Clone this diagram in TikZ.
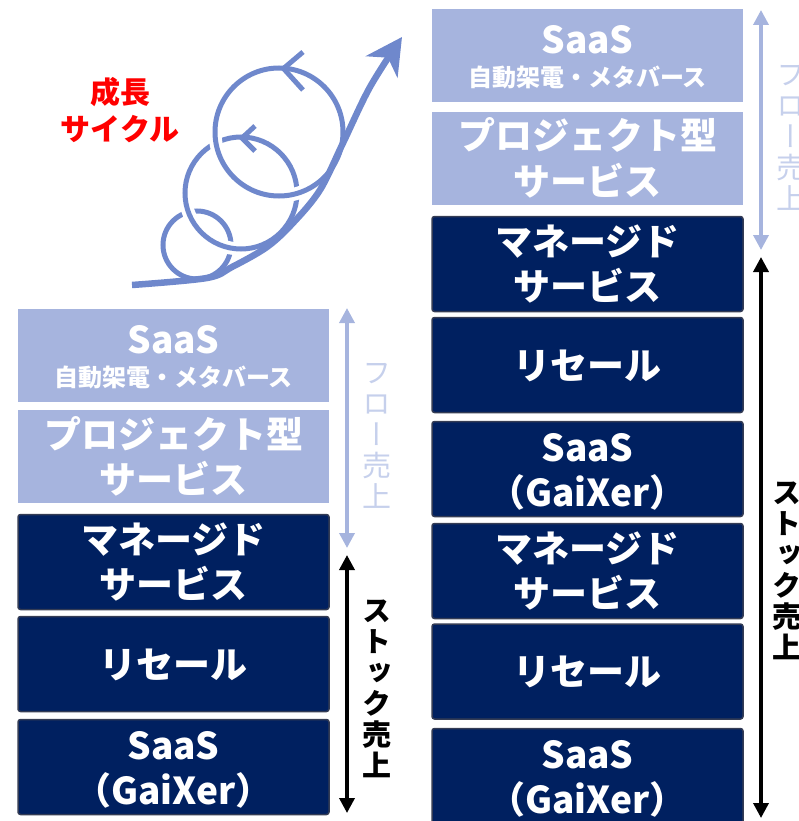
\documentclass[tikz,border=0pt]{standalone}
\usepackage{fontspec}
\usepackage{graphicx}
\setmainfont{Noto Sans CJK JP}
\newfontfamily\jpvert{Noto Sans CJK JP}[RawFeature=+vert]
\usetikzlibrary{arrows.meta}

\definecolor{navy}{RGB}{0,32,96}
\definecolor{navyedge}{RGB}{52,60,84}
\definecolor{lav}{RGB}{166,180,222}
\definecolor{lavtext}{RGB}{198,208,236}
\definecolor{swirl}{RGB}{111,136,204}

\tikzset{
  sidetip/.tip={Triangle[length=15pt, width=15pt]},
  tile/.style={minimum width=311pt, inner sep=0pt, outer sep=0pt},
  darktile/.style={tile, draw=navyedge, line width=1.5pt, fill=navy,
    rounded corners=2.5pt, minimum height=95pt},
  lighttile/.style={tile, fill=lav, minimum height=93pt},
  bigtxt/.style={anchor=base, text=white, inner sep=0pt,
    font=\bfseries\fontsize{37}{44}\selectfont},
  subtxt/.style={anchor=base, text=white, inner sep=0pt,
    font=\bfseries\fontsize{24}{28}\selectfont},
  flowlbl/.style={text=lavtext, align=center, inner sep=0pt,
    font=\jpvert\fontsize{29}{31}\selectfont},
  stocklbl/.style={text=black, align=center, inner sep=0pt,
    font=\jpvert\bfseries\fontsize{29}{31}\selectfont},
  flowarrow/.style={draw=lav, line width=3.5pt, {sidetip}-{sidetip}},
  stockarrow/.style={draw=black, line width=3.5pt, {sidetip}-{sidetip}},
  cyclelbl/.style={text=red, align=center, inner sep=0pt,
    font=\bfseries\fontsize{30}{37}\selectfont},
  ring/.style={draw=swirl, line width=5pt},
  ringgap/.style={draw=white, line width=13pt},
  chevron/.style={draw=swirl, line width=5pt, line join=miter},
  growth/.style={draw=swirl, line width=6.5pt,
    -{Stealth[length=36pt, width=38pt, inset=11pt]}},
}

\begin{document}
\begin{tikzpicture}[x=1pt, y=-1pt]
\useasboundingbox (0,0) rectangle (799,821);
\clip (0,0) rectangle (799,821);

% ---------- growth cycle ----------
\node[cyclelbl] (cycle) at (120,110) {成長\\サイクル};

\draw[ring] (197,245) circle[radius=34];
\draw[ringgap] (241,193) circle[radius=56];
\draw[ring] (241,193) circle[radius=56];
\draw[chevron] (255,126) -- (242,138) -- (255,151);
\draw[ringgap] (279,132) circle[radius=64];
\draw[ring] (279,132) circle[radius=64];
\draw[chevron] (303,52) -- (283.5,68.5) -- (303,90);
\draw[growth] plot[smooth, tension=0.55] coordinates
  {(132,285) (207,278) (232,267) (267,247) (293,223) (320,190) (343,143) (370,87) (402,37)};

% ---------- left stack ----------
\node[lighttile] (L1) at (173.5,355.5) {};
\node[bigtxt] (L1a) at (173.5,353) {SaaS};
\node[subtxt] (L1b) at (173.5,386) {自動架電・メタバース};

\node[lighttile] (L2) at (173.5,456.5) {};
\node[bigtxt] (L2a) at (173.5,448) {プロジェクト型};
\node[bigtxt] (L2b) at (173.5,493) {サービス};

\node[darktile] (L3) at (173.5,562) {};
\node[bigtxt] (L3a) at (173.5,553) {マネージド};
\node[bigtxt] (L3b) at (173.5,598) {サービス};

\node[darktile] (L4) at (173.5,664) {};
\node[bigtxt] (L4a) at (173.5,678) {リセール};

\node[darktile] (L5) at (173.5,767) {};
\node[bigtxt] (L5a) at (173.5,759) {SaaS};
\node[bigtxt] (L5b) at (173.5,804) {（GaiXer）};

\coordinate (lf1) at (347,308);
\coordinate (lf2) at (347,548);
\coordinate (ls1) at (347,555);
\coordinate (ls2) at (347,813);
\draw[flowarrow] (lf1) -- (lf2);
\draw[stockarrow] (ls1) -- (ls2);
\node[flowlbl] (Lflow) at (377,435.5) {フ\\ロ\\ー\\売\\上};
\node[stocklbl] (Lstock) at (377,688.5) {ス\\ト\\ッ\\ク\\売\\上};

% ---------- right stack ----------
\node[lighttile] (R1) at (587.5,56) {};
\node[bigtxt] (R1a) at (587.5,54) {SaaS};
\node[subtxt] (R1b) at (587.5,87) {自動架電・メタバース};

\node[lighttile] (R2) at (587.5,158.5) {};
\node[bigtxt] (R2a) at (587.5,150) {プロジェクト型};
\node[bigtxt] (R2b) at (587.5,195) {サービス};

\node[darktile] (R3) at (587.5,264) {};
\node[bigtxt] (R3a) at (587.5,255) {マネージド};
\node[bigtxt] (R3b) at (587.5,300) {サービス};

\node[darktile] (R4) at (587.5,365) {};
\node[bigtxt] (R4a) at (587.5,379) {リセール};

\node[darktile] (R5) at (587.5,469) {};
\node[bigtxt] (R5a) at (587.5,461) {SaaS};
\node[bigtxt] (R5b) at (587.5,506) {（GaiXer）};

\node[darktile] (R6) at (587.5,571) {};
\node[bigtxt] (R6a) at (587.5,562) {マネージド};
\node[bigtxt] (R6b) at (587.5,607) {サービス};

\node[darktile] (R7) at (587.5,671.5) {};
\node[bigtxt] (R7a) at (587.5,685.5) {リセール};

\node[darktile] (R8) at (587.5,776) {};
\node[bigtxt] (R8a) at (587.5,768) {SaaS};
\node[bigtxt] (R8b) at (587.5,813) {（GaiXer）};

\coordinate (rf1) at (761,10);
\coordinate (rf2) at (761,250);
\coordinate (rs1) at (761,257);
\coordinate (rs2) at (761,818);
\draw[flowarrow] (rf1) -- (rf2);
\draw[stockarrow] (rs1) -- (rs2);
\node[flowlbl] (Rflow) at (791,138) {フ\\ロ\\ー\\売\\上};
\node[stocklbl] (Rstock) at (787,570.5) {ス\\ト\\ッ\\ク\\売\\上};
\end{tikzpicture}
\end{document}
